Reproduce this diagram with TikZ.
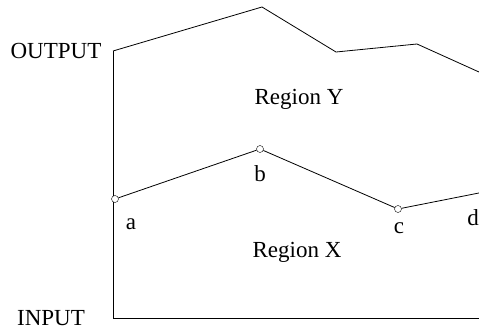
\documentclass[tikz,border=0pt]{standalone}
\usepackage{fontspec}
\setmainfont{Liberation Serif}
\usetikzlibrary{positioning}

\begin{document}
\begin{tikzpicture}[x=1pt, y=1pt,
  pt/.style={draw, circle, inner sep=0pt, minimum size=7pt, fill=white},
  lbl/.style={inner sep=0pt, font=\fontsize{23}{27}\selectfont},
  edge/.style={line width=0.8pt}]
\useasboundingbox (0,0) rectangle (479,333);
% axes
\coordinate (out) at (113,282);
\coordinate (in) at (113,15);
\coordinate (end) at (479,15);
\draw[edge] (out) -- (in) -- (end);
% upper boundary
\coordinate (u1) at (262,326);
\coordinate (u2) at (336,281);
\coordinate (u3) at (417,289);
\coordinate (u4) at (479,261);
\draw[edge] (out) -- (u1) -- (u2) -- (u3) -- (u4);
% points on the dividing line
\node[pt] (a) at (115,134) {};
\node[pt] (b) at (260,184) {};
\node[pt] (c) at (398,124) {};
\node[pt] (d) at (484,141) {};
\draw[edge] (a) -- (b) -- (c) -- (d);
% labels
\node[lbl] (la) at (131,109) {a};
\node[lbl] (lb) at (260,159) {b};
\node[lbl] (lc) at (399,105) {c};
\node[lbl] (ld) at (473,115) {d};
\node[lbl] (ry) at (299,234) {Region Y};
\node[lbl] (rx) at (297,81) {Region X};
\node[lbl] (lo) at (56,282) {OUTPUT};
\node[lbl] (li) at (51,15) {INPUT};
\end{tikzpicture}
\end{document}
